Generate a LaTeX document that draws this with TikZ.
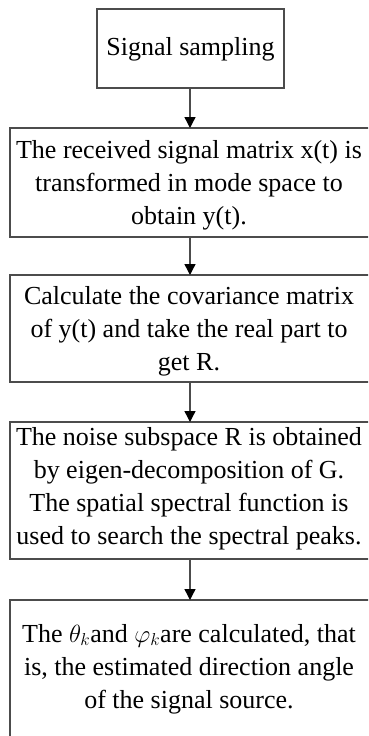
\documentclass[tikz,border=0pt]{standalone}
\usepackage{fontspec}
\setmainfont{Liberation Serif}
\usetikzlibrary{arrows.meta}
\begin{document}
\begin{tikzpicture}[x=1pt,y=-1pt,
  box/.style={draw=black!70, line width=1.4pt, fill=white},
  txt/.style={align=center, font=\fontsize{26}{33}\selectfont, inner sep=0pt},
  conn/.style={draw=black!70, line width=1.4pt, -{Triangle[width=11pt,length=11pt,color=black,fill=black]}}]
\useasboundingbox (0,0) rectangle (368,736);
\clip (0,0) rectangle (368,736);
\draw[box] (97,9) rectangle (284,88);
\node[txt] (t1) at (190.5,49) {Signal sampling};
\coordinate (b1s) at (190,88);
\draw[box] (10,128) rectangle (371,237);
\coordinate (b2n) at (190,128);
\coordinate (b2s) at (190,237);
\node[txt] (t2) at (189,185) {The received signal matrix x(t) is\\transformed in mode space to\\obtain y(t).};
\draw[box] (10,275) rectangle (371,382);
\coordinate (b3n) at (190,275);
\coordinate (b3s) at (190,382);
\node[txt] (t3) at (189,331) {Calculate the covariance matrix\\of y(t) and take the real part to\\get R.};
\draw[box] (10,422) rectangle (371,559);
\coordinate (b4n) at (190,422);
\coordinate (b4s) at (190,559);
\node[txt] (t4) at (189,489) {The noise subspace R is obtained\\by eigen-decomposition of G.\\The spatial spectral function is\\used to search the spectral peaks.};
\draw[box] (10,600) rectangle (371,760);
\coordinate (b5n) at (190,600);
\node[txt] (t5) at (189,669) {The $\theta_{k}$and $\varphi_{k}$are calculated, that\\is, the estimated direction angle\\of the signal source.};
\draw[conn] (b1s) -- (b2n);
\draw[conn] (b2s) -- (b3n);
\draw[conn] (b3s) -- (b4n);
\draw[conn] (b4s) -- (b5n);
\end{tikzpicture}
\end{document}
